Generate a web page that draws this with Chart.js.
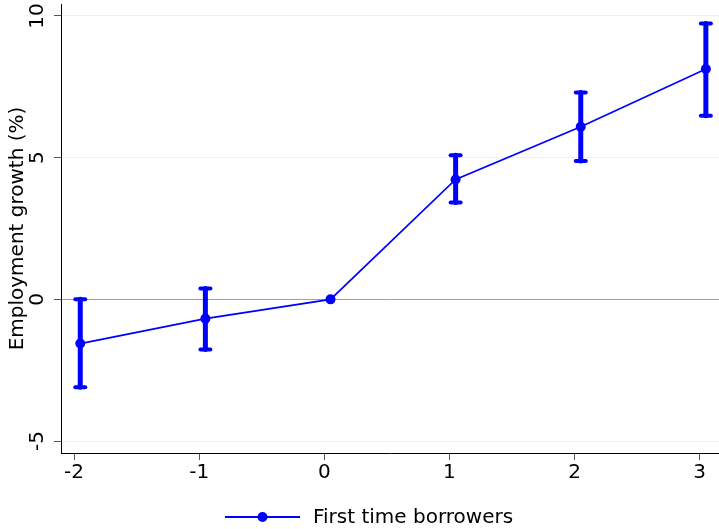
<!DOCTYPE html>
<html>
<head>
<meta charset="utf-8">
<script src="https://cdn.jsdelivr.net/npm/chart.js@4.4.1/dist/chart.umd.min.js"></script>
<style>
html,body{margin:0;padding:0;background:#fff;}
#wrap{width:719px;height:529px;position:relative;}
</style>
</head>
<body>
<div id="wrap"><canvas id="c" width="719" height="529"></canvas></div>
<script>
// ---- data ----
const xPositions = [-1.95, -0.95, 0.05, 1.05, 2.05, 3.05];
const estimates  = [-1.56, -0.68, 0.00, 4.23, 6.09, 8.13];
const ciLower    = [-3.10, -1.77, 0.00, 3.42, 4.88, 6.48];
const ciUpper    = [ 0.00,  0.38, 0.00, 5.08, 7.30, 9.73];
const xTicks = [-2, -1, 0, 1, 2, 3];
const yTicks = [-5, 0, 5, 10];
const seriesLabel = "First time borrowers";
const yTitle = "Employment growth (%)";

const FONT = "'DejaVu Sans', Verdana, sans-serif";
const BLUE = '#0000ff';

const points = xPositions.map((x, i) => ({x: x, y: estimates[i]}));

const errorBars = {
  id: 'errorBars',
  beforeDatasetsDraw(chart) {
    const ctx = chart.ctx, xs = chart.scales.x, ys = chart.scales.y;
    ctx.save();
    ctx.strokeStyle = BLUE;
    ctx.lineCap = 'round';
    xPositions.forEach((xv, i) => {
      if (ciLower[i] === ciUpper[i]) return;
      const px = xs.getPixelForValue(xv);
      const pl = ys.getPixelForValue(ciLower[i]);
      const pu = ys.getPixelForValue(ciUpper[i]);
      ctx.lineWidth = 5;
      ctx.beginPath(); ctx.moveTo(px, pl); ctx.lineTo(px, pu); ctx.stroke();
      ctx.lineWidth = 4;
      [pl, pu].forEach(py => {
        ctx.beginPath(); ctx.moveTo(px - 5, py); ctx.lineTo(px + 5, py); ctx.stroke();
      });
    });
    ctx.restore();
  }
};

const decorations = {
  id: 'decorations',
  afterDraw(chart) {
    const ctx = chart.ctx, xs = chart.scales.x, ys = chart.scales.y, area = chart.chartArea;
    ctx.save();
    ctx.fillStyle = '#000';
    ctx.font = '20px ' + FONT;
    // x tick labels
    xTicks.forEach(v => {
      ctx.textAlign = 'center';
      ctx.textBaseline = 'alphabetic';
      ctx.fillText(String(v), xs.getPixelForValue(v), 478);
    });
    // rotated y tick labels
    yTicks.forEach(v => {
      const py = ys.getPixelForValue(v);
      ctx.save();
      ctx.translate(43, py);
      ctx.rotate(-Math.PI / 2);
      ctx.textAlign = 'center';
      ctx.textBaseline = 'alphabetic';
      ctx.fillText(String(v), 0, 0);
      ctx.restore();
    });
    // y title
    ctx.save();
    ctx.translate(23, (area.top + area.bottom) / 2);
    ctx.rotate(-Math.PI / 2);
    ctx.textAlign = 'center';
    ctx.textBaseline = 'alphabetic';
    ctx.fillText(yTitle, 0, 0);
    ctx.restore();
    // legend
    const ly = 517;
    ctx.strokeStyle = BLUE;
    ctx.lineWidth = 2;
    ctx.beginPath(); ctx.moveTo(225, ly); ctx.lineTo(300, ly); ctx.stroke();
    ctx.fillStyle = BLUE;
    ctx.beginPath(); ctx.arc(262.5, ly, 5, 0, Math.PI * 2); ctx.fill();
    ctx.fillStyle = '#000';
    ctx.textAlign = 'left';
    ctx.textBaseline = 'middle';
    ctx.fillText(seriesLabel, 313, ly + 1);
    ctx.restore();
  }
};

new Chart(document.getElementById('c'), {
  type: 'line',
  data: {
    datasets: [{
      label: seriesLabel,
      data: points,
      borderColor: BLUE,
      backgroundColor: BLUE,
      borderWidth: 1.7,
      pointRadius: 5,
      pointHoverRadius: 5,
      pointBackgroundColor: BLUE,
      pointBorderWidth: 0,
      tension: 0,
      fill: false,
      clip: false
    }]
  },
  options: {
    responsive: false,
    animation: false,
    events: [],
    layout: {autoPadding: false, padding: {top: 4, right: 0, left: 0, bottom: 0}},
    plugins: {legend: {display: false}, tooltip: {enabled: false}},
    scales: {
      x: {
        type: 'linear',
        min: -2.104,
        max: 3.155,
        afterBuildTicks: s => { s.ticks = xTicks.map(v => ({value: v})); },
        afterFit: s => { s.height = 76; },
        ticks: {display: false},
        grid: {drawOnChartArea: false, drawTicks: true, tickLength: 7, tickColor: '#555', tickWidth: 1},
        border: {display: true, color: '#000', width: 1}
      },
      y: {
        type: 'linear',
        min: -5.42,
        max: 10.42,
        afterBuildTicks: s => { s.ticks = yTicks.map(v => ({value: v})); },
        afterFit: s => { s.width = 61; },
        ticks: {display: false},
        grid: {
          drawOnChartArea: true,
          drawTicks: true,
          tickLength: 7,
          lineWidth: 1,
          color: ctx => (ctx.tick && ctx.tick.value === 0) ? '#a0a0a0' : '#eaf2f3',
          tickColor: '#555'
        },
        border: {display: true, color: '#000', width: 1}
      }
    }
  },
  plugins: [errorBars, decorations]
});
</script>
</body>
</html>
